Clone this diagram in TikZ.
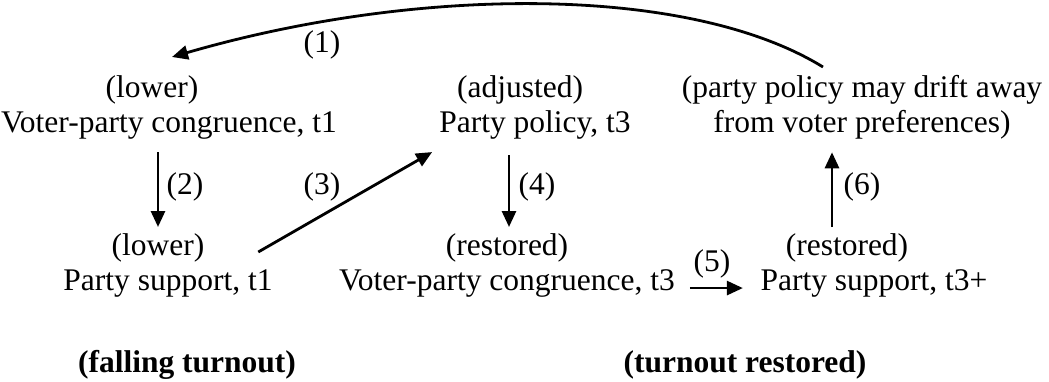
\documentclass[tikz,border=0pt]{standalone}
\usepackage{fontspec}
\setmainfont{Liberation Serif}
\usetikzlibrary{arrows.meta}
\begin{document}
\begin{tikzpicture}[x=1pt,y=-1pt,
  txt/.style={font=\fontsize{31.5}{35}\selectfont, align=center, inner sep=0pt, anchor=north},
  num/.style={font=\fontsize{31.5}{35}\selectfont, inner sep=0pt},
  hd/.style={font=\fontsize{31.5}{35}\selectfont\bfseries, inner sep=0pt, anchor=base},
  arr/.style={line width=2.8pt, -{Triangle[length=16pt,width=14pt]}}]
\useasboundingbox (0,0) rectangle (1049,381);
\node[txt] (vc1) at (169,75) {(lower)\kern34pt\\Voter-party congruence, t1};
\node[txt] (pp3) at (535,75) {(adjusted)\kern30pt\\Party policy, t3};
\node[txt] (drift) at (862,75) {(party policy may drift away\\from voter preferences)};
\node[txt] (ps1) at (168,233) {(lower)\kern20pt\\Party support, t1};
\node[txt] (vc3) at (507,233) {(restored)\\Voter-party congruence, t3};
\node[txt] (ps3) at (874,233) {(restored)\kern54pt\\Party support, t3+};
\node[hd] (fall) at (187,372) {(falling turnout)};
\node[hd] (rest) at (745,372) {(turnout restored)};
\node[num] (l1) at (322,45) {(1)};
\node[num] (l2) at (185,187) {(2)};
\node[num] (l3) at (322,187) {(3)};
\node[num] (l4) at (537,187) {(4)};
\node[num] (l5) at (712,264) {(5)};
\node[num] (l6) at (862,187) {(6)};
\draw[arr] ([xshift=-39pt,yshift=8pt]drift.north) .. controls (690,-15) and (420,-15) .. ([xshift=3pt,yshift=18pt]vc1.north);
\draw[arr] ([xshift=-11pt,yshift=-13pt]vc1.south) -- ([xshift=-10pt,yshift=6pt]ps1.north);
\draw[arr] ([xshift=-14.5pt,yshift=-19pt]ps1.north east) -- ([xshift=-7pt,yshift=-13pt]pp3.south west);
\draw[arr] ([xshift=-26pt,yshift=-16pt]pp3.south) -- ([xshift=2pt,yshift=6pt]vc3.north);
\draw[arr] ([xshift=15pt,yshift=9pt]vc3.south east) -- ([xshift=-17.5pt,yshift=9pt]ps3.south west);
\draw[arr] ([xshift=-42pt,yshift=6pt]ps3.north) -- ([xshift=-30pt,yshift=-13pt]drift.south);
\end{tikzpicture}
\end{document}
